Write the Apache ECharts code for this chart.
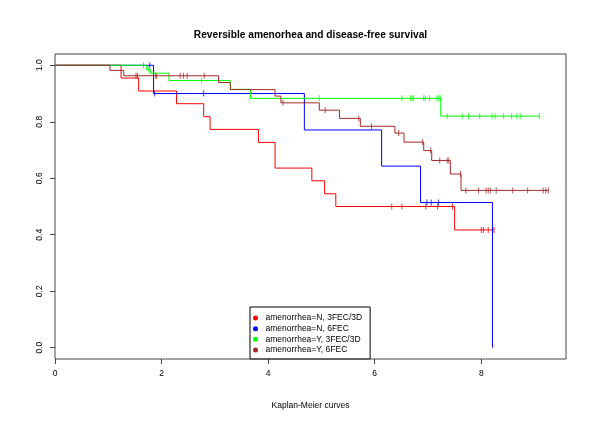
<!DOCTYPE html>
<html>
<head>
<meta charset="utf-8">
<script src="https://cdn.jsdelivr.net/npm/echarts@6/dist/echarts.min.js"></script>
<style>
  html, body { margin: 0; padding: 0; background: #fff; }
  #main { width: 600px; height: 424px; }
</style>
</head>
<body>
<div id="main"></div>
<script>
// KM step curves: time of each step and survival after it
const groupNames = ['amenorrhea=N, 3FEC/3D', 'amenorrhea=N, 6FEC', 'amenorrhea=Y, 3FEC/3D', 'amenorrhea=Y, 6FEC']
const groupColors = ['#ff0000', '#0000ff', '#00ff00', '#a52a2a']

const redTime = [0, 1.24, 1.57, 2.28, 2.79, 2.91, 3.82, 4.13, 4.82, 5.06, 5.27, 7.50, 8.24]
const redSurv = [1, 0.955, 0.909, 0.864, 0.818, 0.773, 0.727, 0.636, 0.591, 0.545, 0.500, 0.417, 0.417]
const redCensor = [6.32, 6.51, 6.96, 7.18, 7.46, 8.00, 8.04, 8.13, 8.21, 8.24]

const blueTime = [0, 1.85, 4.68, 6.13, 6.86, 8.21]
const blueSurv = [1, 0.900, 0.771, 0.643, 0.514, 0]
const blueCensor = [1.78, 1.87, 2.79, 6.98, 7.06, 7.20]

const greenTime = [0, 1.72, 1.79, 2.14, 3.29, 3.67, 7.24, 9.09]
const greenSurv = [1, 0.985, 0.972, 0.946, 0.915, 0.883, 0.820, 0.820]
const greenCensor = [1.66, 1.76, 2.75, 4.96, 6.51, 6.67, 6.70, 6.73, 6.92, 6.95, 7.03, 7.17, 7.20, 7.23,
  7.36, 7.64, 7.76, 7.97, 8.20, 8.26, 8.42, 8.57, 8.67, 8.73, 9.09]

const brownTime = [0, 1.03, 1.29, 3.07, 3.29, 4.13, 4.24, 4.96, 5.34, 5.73, 6.38, 6.55, 6.92, 7.07, 7.42, 7.62, 9.26]
const brownSurv = [1, 0.982, 0.963, 0.939, 0.914, 0.891, 0.867, 0.841, 0.812, 0.784, 0.760, 0.728, 0.698, 0.663, 0.615, 0.557, 0.557]
const brownCensor = [1.52, 1.55, 1.89, 1.91, 2.35, 2.41, 2.48, 2.80, 4.28, 5.07, 5.70, 5.94, 6.45, 6.90, 7.05,
  7.22, 7.36, 7.39, 7.61, 7.71, 7.95, 8.09, 8.13, 8.17, 8.28, 8.59, 8.87, 9.16, 9.21, 9.26]

const xTicks = [0, 2, 4, 6, 8]
const yTicks = [0, 0.2, 0.4, 0.6, 0.8, 1.0]

const groups = [
  { time: redTime, surv: redSurv, censor: redCensor },
  { time: blueTime, surv: blueSurv, censor: blueCensor },
  { time: greenTime, surv: greenSurv, censor: greenCensor },
  { time: brownTime, surv: brownSurv, censor: brownCensor }
]

const font = 'Liberation Sans, Arial, Helvetica, sans-serif'

function survAt(times, surv, t) {
  let s = surv[0]
  for (let i = 0; i < times.length; i++) {
    if (times[i] <= t) s = surv[i]
  }
  return s
}

let series = []
groups.forEach(function (g, i) {
  series.push({
    name: groupNames[i],
    type: 'line',
    step: 'end',
    showSymbol: false,
    color: groupColors[i],
    lineStyle: { width: 1, color: groupColors[i] },
    data: g.time.map(function (t, k) { return [t, g.surv[k]] })
  })
})
groups.forEach(function (g, i) {
  series.push({
    name: 'censor' + i,
    type: 'scatter',
    symbol: 'rect',
    symbolSize: [1, 6],
    itemStyle: { color: groupColors[i] },
    data: g.censor.map(function (t) { return [t, survAt(g.time, g.surv, t)] })
  })
})

const chart = echarts.init(document.getElementById('main'))
chart.setOption({
  animation: false,
  backgroundColor: '#fff',
  title: [{
    text: 'Reversible amenorhea and disease-free survival',
    left: 310.5, top: 30.5, textAlign: 'center', padding: 0,
    textStyle: { fontFamily: font, fontSize: 10.2, fontWeight: 'bold', color: '#000' }
  }, {
    text: 'Kaplan-Meier curves',
    left: 310.5, top: 401, textAlign: 'center', padding: 0,
    textStyle: { fontFamily: font, fontSize: 8.5, fontWeight: 'normal', color: '#000' }
  }],
  legend: {
    data: groupNames.map(function (n) { return { name: n, icon: 'circle' } }),
    orient: 'vertical',
    left: 250, top: 307,
    itemWidth: 10, itemHeight: 5, itemGap: 0,
    padding: [5.6, 8, 3.5, 3],
    borderColor: '#000', borderWidth: 1,
    backgroundColor: '#fff',
    selectedMode: false,
    textStyle: { fontFamily: font, fontSize: 8.5, color: '#000', lineHeight: 10.7 }
  },
  grid: {
    left: 55, right: 34, top: 54, bottom: 65,
    show: true, borderColor: '#444', borderWidth: 1,
    outerBoundsMode: 'none'
  },
  xAxis: {
    type: 'value', min: 0, max: 9.59,
    splitLine: { show: false },
    axisLine: { show: false, onZero: false },
    axisTick: { show: true, length: 5, customValues: xTicks, lineStyle: { color: '#444' } },
    axisLabel: { customValues: xTicks, margin: 10.5, fontFamily: font, fontSize: 8.5, color: '#000' }
  },
  yAxis: {
    type: 'value', min: -0.04, max: 1.04,
    splitLine: { show: false },
    axisLine: { show: false, onZero: false },
    axisTick: { show: true, length: 5, customValues: yTicks, lineStyle: { color: '#444' } },
    axisLabel: {
      customValues: yTicks, rotate: 90, margin: 11,
      fontFamily: font, fontSize: 8.5, color: '#000',
      formatter: function (v) { return v.toFixed(1) }
    }
  },
  series: series
})
</script>
</body>
</html>
